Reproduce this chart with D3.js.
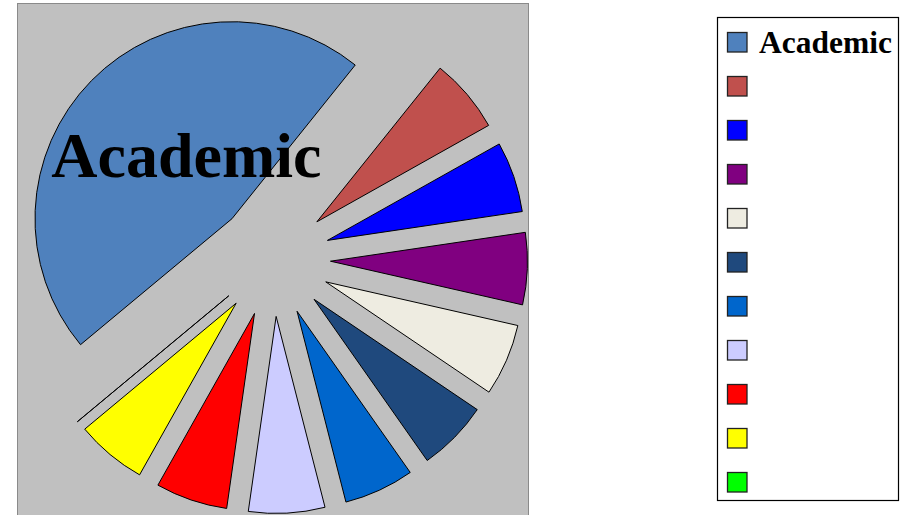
<!DOCTYPE html>
<html>
<head>
<meta charset="utf-8">
<script src="https://cdn.jsdelivr.net/npm/d3@7"></script>
<style>
  html, body { margin: 0; padding: 0; background: #ffffff; }
  svg { display: block; }
</style>
</head>
<body>
<svg id="chart" width="903" height="515"></svg>
<script>
// ---- data ----
const categories = ["Academic", "", "", "", "", "", "", "", "", "", ""];
const values = [46.8, 6.1, 5.8, 5.9, 5.9, 5.8, 5.75, 6.25, 5.9, 5.8, 0];
const colors = ["#4F81BD", "#C0504D", "#0000FF", "#800080", "#EEECE1", "#1F497D",
                "#0066CC", "#CCCCFF", "#FF0000", "#FFFF00", "#00FF00"];
const labelled = ["Academic"];

// ---- layout ----
const svg = d3.select("#chart");
const plot = { x: 17.5, y: 3.5, w: 511, h: 512 };
const cx = plot.x + plot.w / 2, cy = 259;
const outerR = 197, explode = 57.5;
const startDeg = 230.25;

svg.append("rect")
  .attr("x", plot.x).attr("y", plot.y)
  .attr("width", plot.w).attr("height", plot.h)
  .attr("fill", "#C0C0C0").attr("stroke", "#8a8a8a").attr("stroke-width", 1);

const data = categories.map((c, i) => ({ name: c, value: values[i], color: colors[i] }));

const pie = d3.pie()
  .sort(null)
  .value(d => d.value)
  .startAngle(startDeg * Math.PI / 180)
  .endAngle((startDeg + 360) * Math.PI / 180);

const arcs = pie(data);
const arc = d3.arc().innerRadius(0).outerRadius(outerR);
const labelArc = d3.arc().innerRadius(64).outerRadius(64);

function offset(d) {
  const mid = (d.startAngle + d.endAngle) / 2;
  return [explode * Math.sin(mid), -explode * Math.cos(mid)];
}

const g = svg.append("g").attr("transform", `translate(${cx},${cy})`);

g.selectAll("path.slice")
  .data(arcs)
  .join("path")
  .attr("class", "slice")
  .attr("transform", d => { const o = offset(d); return `translate(${o[0]},${o[1]})`; })
  .attr("d", arc)
  .attr("fill", d => d.data.color)
  .attr("stroke", "#000")
  .attr("stroke-width", 1)
  .attr("stroke-linejoin", "miter");

g.selectAll("text.slabel")
  .data(arcs.filter(d => labelled.includes(d.data.name)))
  .join("text")
  .attr("class", "slabel")
  .attr("transform", d => {
    const o = offset(d), c = labelArc.centroid(d);
    return `translate(${o[0] + c[0]},${o[1] + c[1] + 3.5})`;
  })
  .attr("text-anchor", "middle")
  .attr("font-family", "'Liberation Serif', 'Times New Roman', serif")
  .attr("font-weight", "bold")
  .attr("font-size", 64)
  .attr("fill", "#000")
  .text(d => d.data.name);

// ---- legend ----
const legend = { x: 717.5, y: 17.5, w: 181, h: 483 };
svg.append("rect")
  .attr("x", legend.x).attr("y", legend.y)
  .attr("width", legend.w).attr("height", legend.h)
  .attr("fill", "#fff").attr("stroke", "#000").attr("stroke-width", 1.2);

const ly = d3.scaleBand()
  .domain(d3.range(categories.length))
  .range([32, 32 + 44 * categories.length]);

const items = svg.append("g").selectAll("g")
  .data(data)
  .join("g")
  .attr("transform", (d, i) => `translate(0,${ly(i)})`);

items.append("rect")
  .attr("x", 727.5).attr("y", 0.5)
  .attr("width", 19.5).attr("height", 19.5)
  .attr("fill", d => d.color)
  .attr("stroke", "#222").attr("stroke-width", 1.3);

items.append("text")
  .attr("x", 759)
  .attr("y", 21)
  .attr("font-family", "'Liberation Serif', 'Times New Roman', serif")
  .attr("font-weight", "bold")
  .attr("font-size", 31.5)
  .attr("fill", "#000")
  .text(d => d.name);
</script>
</body>
</html>
